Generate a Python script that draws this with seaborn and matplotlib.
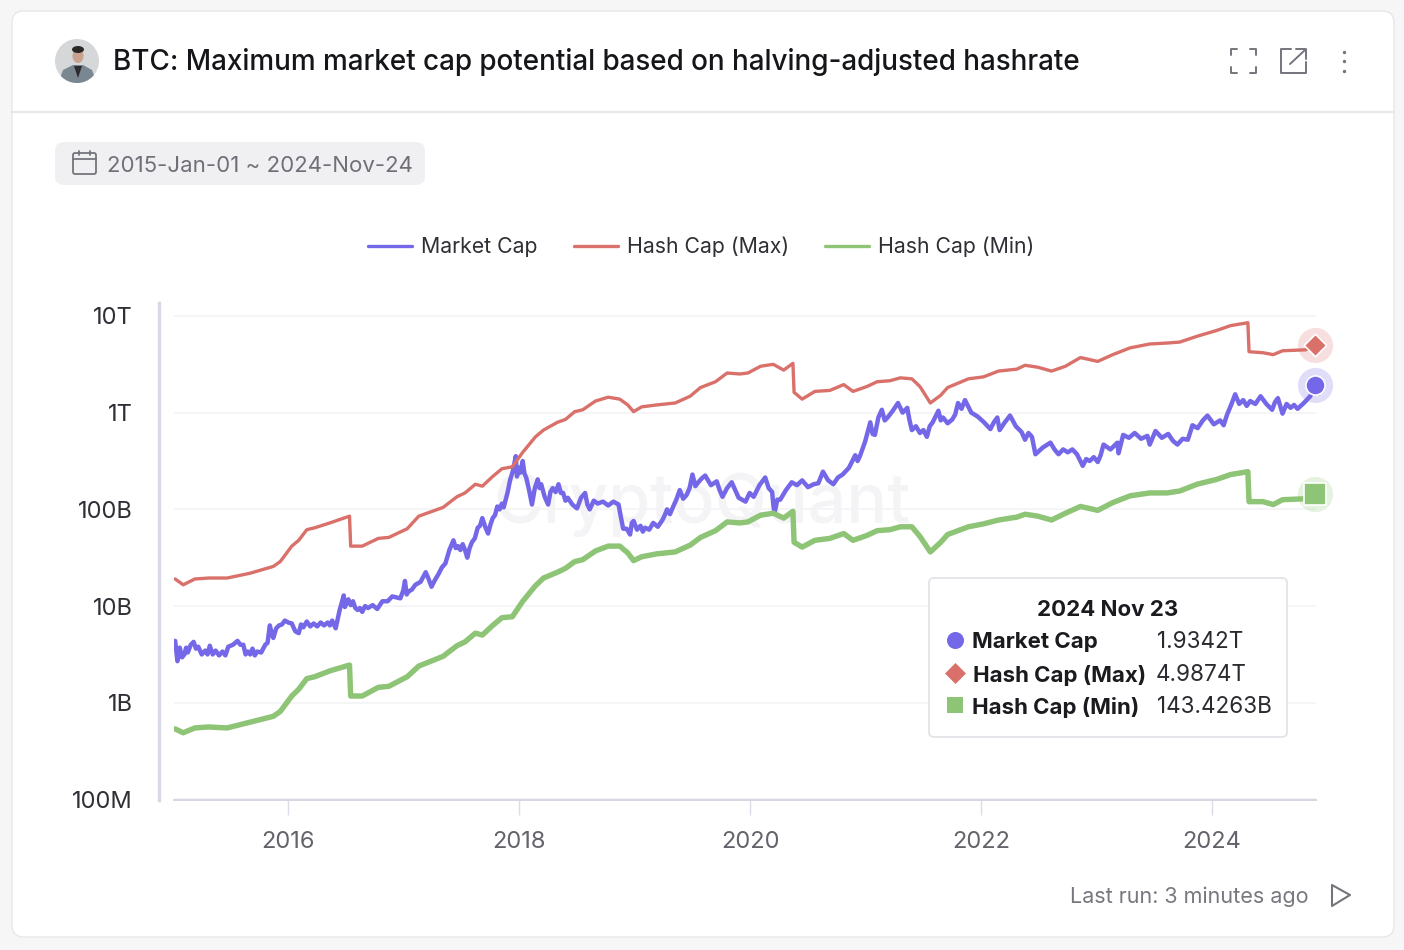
import numpy as np
import pandas as pd
import matplotlib
matplotlib.use('Agg')
import matplotlib.pyplot as plt
from matplotlib.patches import FancyBboxPatch, Circle, Ellipse, Polygon
from matplotlib.lines import Line2D
import seaborn as sns

# values, stored as log10(USD), x as decimal years
mcap_points = [
    (2015.02, 9.64), (2015.04, 9.43), (2015.06, 9.57), (2015.08, 9.47), (2015.10, 9.50), (2015.115, 9.57), (2015.13, 9.52),
    (2015.155, 9.60), (2015.18, 9.63), (2015.20, 9.56), (2015.22, 9.58), (2015.25, 9.50), (2015.28, 9.54), (2015.30, 9.50),
    (2015.32, 9.59), (2015.345, 9.50), (2015.37, 9.54), (2015.40, 9.49), (2015.43, 9.53), (2015.455, 9.49), (2015.48, 9.58),
    (2015.52, 9.60), (2015.56, 9.64), (2015.585, 9.60), (2015.61, 9.60), (2015.63, 9.50), (2015.65, 9.53), (2015.67, 9.50),
    (2015.69, 9.56), (2015.71, 9.49), (2015.73, 9.53), (2015.765, 9.52), (2015.80, 9.60), (2015.82, 9.62), (2015.84, 9.80),
    (2015.855, 9.72), (2015.87, 9.67), (2015.895, 9.77), (2015.92, 9.80), (2015.945, 9.81), (2015.97, 9.85), (2016.00, 9.83),
    (2016.03, 9.82), (2016.06, 9.74), (2016.09, 9.72), (2016.11, 9.81), (2016.13, 9.78), (2016.16, 9.84), (2016.19, 9.79),
    (2016.22, 9.82), (2016.25, 9.79), (2016.28, 9.83), (2016.31, 9.80), (2016.34, 9.83), (2016.36, 9.80), (2016.38, 9.85),
    (2016.41, 9.77), (2016.445, 9.96), (2016.48, 10.11), (2016.49, 9.99), (2016.52, 10.07), (2016.54, 10.01), (2016.56, 10.05),
    (2016.58, 9.98), (2016.60, 9.96), (2016.62, 9.98), (2016.64, 9.94), (2016.665, 10.00), (2016.69, 9.98), (2016.73, 10.01),
    (2016.77, 9.97), (2016.815, 10.05), (2016.86, 10.05), (2016.90, 10.10), (2016.97, 10.08), (2016.995, 10.16), (2017.01, 10.26),
    (2017.025, 10.12), (2017.04, 10.15), (2017.07, 10.17), (2017.10, 10.22), (2017.145, 10.25), (2017.19, 10.35), (2017.215, 10.28),
    (2017.24, 10.20), (2017.27, 10.27), (2017.30, 10.33), (2017.33, 10.40), (2017.36, 10.44), (2017.395, 10.58), (2017.43, 10.68),
    (2017.45, 10.60), (2017.47, 10.62), (2017.49, 10.58), (2017.51, 10.64), (2017.53, 10.58), (2017.55, 10.50), (2017.57, 10.60),
    (2017.59, 10.66), (2017.615, 10.70), (2017.64, 10.81), (2017.66, 10.83), (2017.68, 10.91), (2017.705, 10.82), (2017.73, 10.75),
    (2017.75, 10.84), (2017.77, 10.91), (2017.79, 10.94), (2017.81, 11.03), (2017.83, 11.00), (2017.85, 11.06), (2017.865, 11.02),
    (2017.88, 11.09), (2017.90, 11.18), (2017.92, 11.30), (2017.945, 11.40), (2017.97, 11.55), (2017.98, 11.34), (2018.00, 11.43),
    (2018.01, 11.38), (2018.03, 11.50), (2018.045, 11.37), (2018.06, 11.33), (2018.085, 11.20), (2018.11, 11.05), (2018.135, 11.22),
    (2018.16, 11.31), (2018.175, 11.22), (2018.19, 11.26), (2018.22, 11.13), (2018.25, 11.05), (2018.27, 11.18), (2018.29, 11.22),
    (2018.315, 11.18), (2018.34, 11.26), (2018.36, 11.17), (2018.38, 11.17), (2018.40, 11.09), (2018.42, 11.12), (2018.46, 11.05),
    (2018.50, 11.01), (2018.535, 11.12), (2018.57, 11.17), (2018.59, 11.05), (2018.61, 11.00), (2018.645, 11.09), (2018.68, 11.06),
    (2018.725, 11.08), (2018.77, 11.04), (2018.815, 11.08), (2018.86, 11.05), (2018.88, 10.92), (2018.90, 10.80), (2018.93, 10.80),
    (2018.96, 10.74), (2018.975, 10.86), (2018.99, 10.88), (2019.02, 10.79), (2019.05, 10.83), (2019.07, 10.77), (2019.09, 10.81),
    (2019.125, 10.79), (2019.16, 10.86), (2019.20, 10.82), (2019.24, 10.89), (2019.26, 10.94), (2019.28, 11.00), (2019.305, 10.95),
    (2019.33, 11.02), (2019.36, 11.10), (2019.39, 11.20), (2019.42, 11.11), (2019.45, 11.15), (2019.475, 11.22), (2019.50, 11.36),
    (2019.525, 11.24), (2019.55, 11.28), (2019.58, 11.32), (2019.61, 11.35), (2019.66, 11.25), (2019.71, 11.29), (2019.735, 11.20),
    (2019.76, 11.13), (2019.80, 11.22), (2019.84, 11.28), (2019.90, 11.12), (2019.96, 11.08), (2019.995, 11.17), (2020.03, 11.13),
    (2020.08, 11.25), (2020.13, 11.33), (2020.16, 11.22), (2020.19, 11.18), (2020.20, 11.05), (2020.21, 10.96), (2020.235, 11.10),
    (2020.26, 11.10), (2020.31, 11.20), (2020.36, 11.28), (2020.405, 11.25), (2020.45, 11.30), (2020.50, 11.23), (2020.55, 11.26),
    (2020.59, 11.27), (2020.63, 11.39), (2020.675, 11.30), (2020.72, 11.26), (2020.76, 11.33), (2020.80, 11.36), (2020.855, 11.43),
    (2020.91, 11.56), (2020.93, 11.50), (2020.95, 11.55), (2020.995, 11.70), (2021.04, 11.90), (2021.06, 11.78), (2021.08, 11.77),
    (2021.11, 11.95), (2021.14, 12.03), (2021.165, 11.92), (2021.19, 11.95), (2021.235, 12.02), (2021.28, 12.10), (2021.32, 12.00),
    (2021.36, 12.05), (2021.38, 11.92), (2021.40, 11.82), (2021.435, 11.86), (2021.47, 11.79), (2021.50, 11.82), (2021.53, 11.75),
    (2021.555, 11.86), (2021.58, 11.90), (2021.605, 11.96), (2021.63, 12.02), (2021.65, 11.92), (2021.67, 11.95), (2021.71, 11.89),
    (2021.75, 11.93), (2021.775, 11.98), (2021.80, 12.10), (2021.83, 12.04), (2021.86, 12.13), (2021.915, 12.00), (2021.97, 11.96),
    (2022.025, 11.90), (2022.08, 11.83), (2022.11, 11.90), (2022.14, 11.95), (2022.16, 11.82), (2022.205, 11.90), (2022.25, 11.97),
    (2022.30, 11.86), (2022.35, 11.80), (2022.38, 11.72), (2022.41, 11.79), (2022.44, 11.75), (2022.47, 11.57), (2022.535, 11.64),
    (2022.60, 11.69), (2022.635, 11.62), (2022.67, 11.57), (2022.71, 11.62), (2022.75, 11.59), (2022.79, 11.62), (2022.83, 11.57),
    (2022.88, 11.45), (2022.91, 11.52), (2022.94, 11.50), (2022.975, 11.54), (2023.01, 11.49), (2023.035, 11.56), (2023.06, 11.67),
    (2023.12, 11.62), (2023.18, 11.69), (2023.19, 11.58), (2023.23, 11.77), (2023.28, 11.74), (2023.33, 11.79), (2023.385, 11.73),
    (2023.44, 11.76), (2023.46, 11.67), (2023.51, 11.81), (2023.565, 11.74), (2023.62, 11.78), (2023.66, 11.71), (2023.70, 11.67),
    (2023.745, 11.73), (2023.79, 11.72), (2023.83, 11.87), (2023.875, 11.84), (2023.92, 11.92), (2023.96, 11.97), (2024.015, 11.88),
    (2024.07, 11.92), (2024.10, 11.87), (2024.13, 11.98), (2024.165, 12.08), (2024.20, 12.19), (2024.235, 12.09), (2024.27, 12.13),
    (2024.30, 12.07), (2024.33, 12.12), (2024.375, 12.09), (2024.42, 12.17), (2024.47, 12.09), (2024.52, 12.03), (2024.545, 12.11),
    (2024.57, 12.15), (2024.59, 12.07), (2024.61, 11.99), (2024.645, 12.09), (2024.68, 12.05), (2024.71, 12.08), (2024.74, 12.04),
    (2024.795, 12.10), (2024.85, 12.17), (2024.89, 12.287),
]

hash_years = [2015.02, 2015.09, 2015.19, 2015.31, 2015.47, 2015.67, 2015.87, 2015.93, 2016.03, 2016.09, 2016.16, 2016.23,
              2016.36, 2016.53, 2016.54, 2016.64, 2016.78, 2016.87, 2017.03, 2017.13, 2017.34, 2017.46, 2017.53, 2017.62,
              2017.68, 2017.77, 2017.85, 2017.94, 2018.03, 2018.14, 2018.21, 2018.33, 2018.40, 2018.48, 2018.55, 2018.66,
              2018.77, 2018.87, 2018.94, 2018.99, 2019.06, 2019.19, 2019.35, 2019.48, 2019.57, 2019.70, 2019.80, 2019.91,
              2019.98, 2020.09, 2020.20, 2020.29, 2020.37, 2020.38, 2020.45, 2020.56, 2020.69, 2020.81, 2020.89, 2021.01,
              2021.10, 2021.21, 2021.30, 2021.40, 2021.47, 2021.56, 2021.65, 2021.71, 2021.89, 2022.02, 2022.15, 2022.31,
              2022.38, 2022.49, 2022.61, 2022.73, 2022.86, 2023.01, 2023.14, 2023.29, 2023.46, 2023.61, 2023.72, 2023.87,
              2024.04, 2024.16, 2024.31, 2024.32, 2024.44, 2024.53, 2024.61, 2024.81, 2024.89]
hash_max_log = [10.28, 10.22, 10.28, 10.29, 10.29, 10.34, 10.41, 10.46, 10.62, 10.68, 10.79, 10.81,
                10.86, 10.93, 10.62, 10.62, 10.70, 10.71, 10.80, 10.93, 11.02, 11.13, 11.17, 11.26,
                11.24, 11.34, 11.42, 11.44, 11.59, 11.75, 11.82, 11.90, 11.93, 12.01, 12.03, 12.12,
                12.16, 12.14, 12.08, 12.01, 12.06, 12.08, 12.10, 12.17, 12.26, 12.32, 12.41, 12.40,
                12.41, 12.48, 12.50, 12.44, 12.51, 12.21, 12.14, 12.22, 12.23, 12.29, 12.22, 12.27,
                12.32, 12.33, 12.36, 12.35, 12.27, 12.10, 12.18, 12.26, 12.35, 12.37, 12.43, 12.45,
                12.49, 12.47, 12.43, 12.48, 12.57, 12.53, 12.60, 12.67, 12.71, 12.72, 12.73, 12.79,
                12.85, 12.90, 12.93, 12.63, 12.62, 12.60, 12.64, 12.65, 12.698]
hash_min_log = [8.73, 8.69, 8.74, 8.75, 8.74, 8.80, 8.86, 8.91, 9.07, 9.14, 9.25, 9.27,
                9.33, 9.39, 9.07, 9.07, 9.16, 9.17, 9.27, 9.38, 9.48, 9.59, 9.63, 9.72,
                9.70, 9.80, 9.88, 9.89, 10.05, 10.21, 10.29, 10.35, 10.39, 10.46, 10.48, 10.57,
                10.62, 10.62, 10.55, 10.47, 10.51, 10.54, 10.56, 10.63, 10.71, 10.78, 10.87, 10.86,
                10.87, 10.94, 10.96, 10.91, 10.98, 10.66, 10.61, 10.68, 10.70, 10.75, 10.68, 10.73,
                10.78, 10.79, 10.82, 10.82, 10.72, 10.56, 10.66, 10.74, 10.82, 10.85, 10.89, 10.92,
                10.95, 10.93, 10.89, 10.96, 11.03, 10.99, 11.07, 11.14, 11.17, 11.17, 11.19, 11.26,
                11.31, 11.36, 11.39, 11.08, 11.08, 11.05, 11.10, 11.11, 11.157]

series_names = ['Market Cap', 'Hash Cap (Max)', 'Hash Cap (Min)']
series_colors = ['#7568e8', '#d9706a', '#8ec476']
series_widths = [3.2, 2.4, 3.9]
series_markers = ['o', 'D', 's']
end_sizes = [190, 130, 260]
tooltip_sizes = [150, 114, 120]

x_ticks = [2016, 2018, 2020, 2022, 2024]
y_ticks = [1e8, 1e9, 1e10, 1e11, 1e12, 1e13]
y_labels = ['100M', '1B', '10B', '100B', '1T', '10T']

tooltip_date = '2024 Nov 23'
tooltip_values = ['1.9342T', '4.9874T', '143.4263B']

W, H = 1404, 950

sns.set_theme(style='white')
plt.rcParams['font.family'] = ['Inter', 'DejaVu Sans']

mcap = np.array(mcap_points)
df = pd.concat([
    pd.DataFrame({'year': mcap[:, 0], 'value': 10 ** mcap[:, 1], 'name': series_names[0]}),
    pd.DataFrame({'year': hash_years, 'value': 10 ** np.array(hash_max_log), 'name': series_names[1]}),
    pd.DataFrame({'year': hash_years, 'value': 10 ** np.array(hash_min_log), 'name': series_names[2]}),
], ignore_index=True)

fig = plt.figure(figsize=(W / 100, H / 100), dpi=100, facecolor='#f6f6f7')

# page furniture in pixel coordinates
bg = fig.add_axes([0, 0, 1, 1], zorder=0)
bg.set_xlim(0, W)
bg.set_ylim(H, 0)
bg.axis('off')
bg.add_patch(FancyBboxPatch((12, 11), 1382, 926, boxstyle='round,pad=0,rounding_size=12',
                            fc='white', ec='#e8e8ea', lw=1))
bg.plot([12, 1394], [112, 112], color='#e7e7ea', lw=1.6)

# avatar
avatar = Circle((77, 61), 22, fc='#d6d7d8', ec='none')
bg.add_patch(avatar)
body = Polygon([[58, 84], [63, 70], [73, 65], [83, 65], [92, 70], [97, 84]], fc='#7a8690', ec='none')
bg.add_patch(body)
body.set_clip_path(avatar)
bg.add_patch(Polygon([[74, 66], [82, 66], [78, 78]], fc='#2c2c30', ec='none'))
bg.add_patch(Ellipse((78, 56), 11, 14, fc='#c8a28e', ec='none'))
bg.add_patch(Ellipse((78, 49.5), 12, 7, fc='#2a2725', ec='none'))

bg.text(113, 62.5, 'BTC: Maximum market cap potential based on halving-adjusted hashrate',
        fontsize=20.05, fontweight='medium', color='#15161a', va='center', ha='left')

# header icons
icon_color = '#74747c'
for cx, cy, dx, dy in [(1231, 49, 1, 1), (1256, 49, -1, 1), (1231, 73, 1, -1), (1256, 73, -1, -1)]:
    bg.plot([cx + 6 * dx, cx, cx], [cy, cy, cy + 6 * dy], color=icon_color, lw=1.4)
bg.plot([1291, 1281, 1281, 1306, 1306], [49, 49, 73, 73, 62], color=icon_color, lw=1.4)
bg.plot([1290, 1305], [64, 50], color=icon_color, lw=1.4)
bg.plot([1296, 1306, 1306], [49, 49, 59], color=icon_color, lw=1.4)
bg.scatter([1344, 1344, 1344], [52, 61, 71], s=6, color=icon_color, lw=0)

# date pill
bg.add_patch(FancyBboxPatch((55, 142), 370, 43, boxstyle='round,pad=0,rounding_size=9', fc='#f0f0f3', ec='none'))
bg.add_patch(FancyBboxPatch((73, 153), 23, 21, boxstyle='round,pad=0,rounding_size=2', fc='none', ec=icon_color, lw=1.3))
bg.plot([73, 96], [159, 159], color=icon_color, lw=1.3)
bg.plot([79, 79], [151, 155], color=icon_color, lw=1.3)
bg.plot([90, 90], [151, 155], color=icon_color, lw=1.3)
bg.text(107, 165.5, '2015-Jan-01 ~ 2024-Nov-24', fontsize=16, color='#6f6f78', va='center', ha='left')

bg.text(702, 505, 'CryptoQuant', fontsize=49, color='#f4f4f6', va='center', ha='center', fontweight='medium')

bg.text(1309, 896.5, 'Last run: 3 minutes ago', fontsize=15.5, color='#77777f', va='center', ha='right')
bg.add_patch(Polygon([[1332, 885], [1350, 895], [1332, 906]], fc='none', ec=icon_color, lw=1.5, joinstyle='round'))

# chart axes: 174..1316 px wide, 303..800 px high
ax = fig.add_axes([174 / W, 1 - 800 / H, (1316 - 174) / W, (800 - 303) / H], zorder=1)
ax.patch.set_alpha(0)
for i, name in enumerate(series_names):
    sns.lineplot(data=df[df['name'] == name], x='year', y='value', color=series_colors[i],
                 linewidth=series_widths[i], label=name, estimator=None, sort=False, errorbar=None, ax=ax)

ax.set_yscale('log')
ax.set_xlim(2015.01, 2024.90)
ax.set_ylim(1e8 * 0.988, 10 ** 13.134)
ax.set_xticks(x_ticks)
ax.set_xticklabels([str(t) for t in x_ticks])
ax.set_yticks(y_ticks)
ax.set_yticklabels(y_labels)
ax.minorticks_off()
ax.set_xlabel('')
ax.set_ylabel('')
ax.grid(axis='y', color='#f4f4f6', lw=1.2)
ax.set_axisbelow(True)
ax.tick_params(axis='x', length=10.5, width=1, color='#dcdce6', labelsize=17, labelcolor='#63636c', pad=12, bottom=True)
ax.tick_params(axis='y', length=0, labelsize=17, labelcolor='#2f2f36', pad=19)
for side in ['top', 'right']:
    ax.spines[side].set_visible(False)
ax.spines['bottom'].set_color('#d6d6e2')
ax.spines['bottom'].set_linewidth(1.4)
ax.spines['left'].set_position(('outward', 10.8))
ax.spines['left'].set_color('#d8d8e6')
ax.spines['left'].set_linewidth(2.4)

# end-of-line markers with halos
last_x = mcap_points[-1][0]
last_logs = [mcap_points[-1][1], hash_max_log[-1], hash_min_log[-1]]
for i, name in enumerate(series_names):
    y_last = 10 ** last_logs[i]
    ax.scatter([last_x], [y_last], s=640, color=series_colors[i], alpha=0.22, lw=0, clip_on=False, zorder=5)
    ax.scatter([last_x], [y_last], s=end_sizes[i], color=series_colors[i], marker=series_markers[i],
               edgecolor='white', lw=1.2, clip_on=False, zorder=6)

handles = [Line2D([0], [0], color=c, lw=2.4) for c in series_colors]
fig.legend(handles, series_names, loc='center', bbox_to_anchor=(701 / W, 1 - 247 / H), ncol=3, frameon=False,
           fontsize=15.3, labelcolor='#2f2f36', handlelength=2.07, handletextpad=0.42, columnspacing=1.72)
ax.get_legend().remove()

# tooltip
top = fig.add_axes([0, 0, 1, 1], zorder=2)
top.set_xlim(0, W)
top.set_ylim(H, 0)
top.axis('off')
top.add_patch(FancyBboxPatch((929, 578), 358, 159, boxstyle='round,pad=0,rounding_size=5',
                             fc='white', ec='#e4e4e9', lw=1.4, alpha=0.96))
top.text(1108, 610, tooltip_date, fontsize=16, fontweight='bold', color='#1a1a1f', va='center', ha='center')
row_y = [640, 673, 705]
label_x = [972, 973, 972]
value_x = [1157, 1156, 1157]
for i, name in enumerate(series_names):
    top.scatter([955], [row_y[i]], s=tooltip_sizes[i], color=series_colors[i], marker=series_markers[i], lw=0)
    top.text(label_x[i], row_y[i] + 2, name, fontsize=16, fontweight='bold', color='#1a1a1f', va='center', ha='left')
    top.text(value_x[i], row_y[i] + 2, tooltip_values[i], fontsize=16.2, color='#2a2a30', va='center', ha='left')

fig.savefig('out.png', dpi=100, facecolor=fig.get_facecolor())
